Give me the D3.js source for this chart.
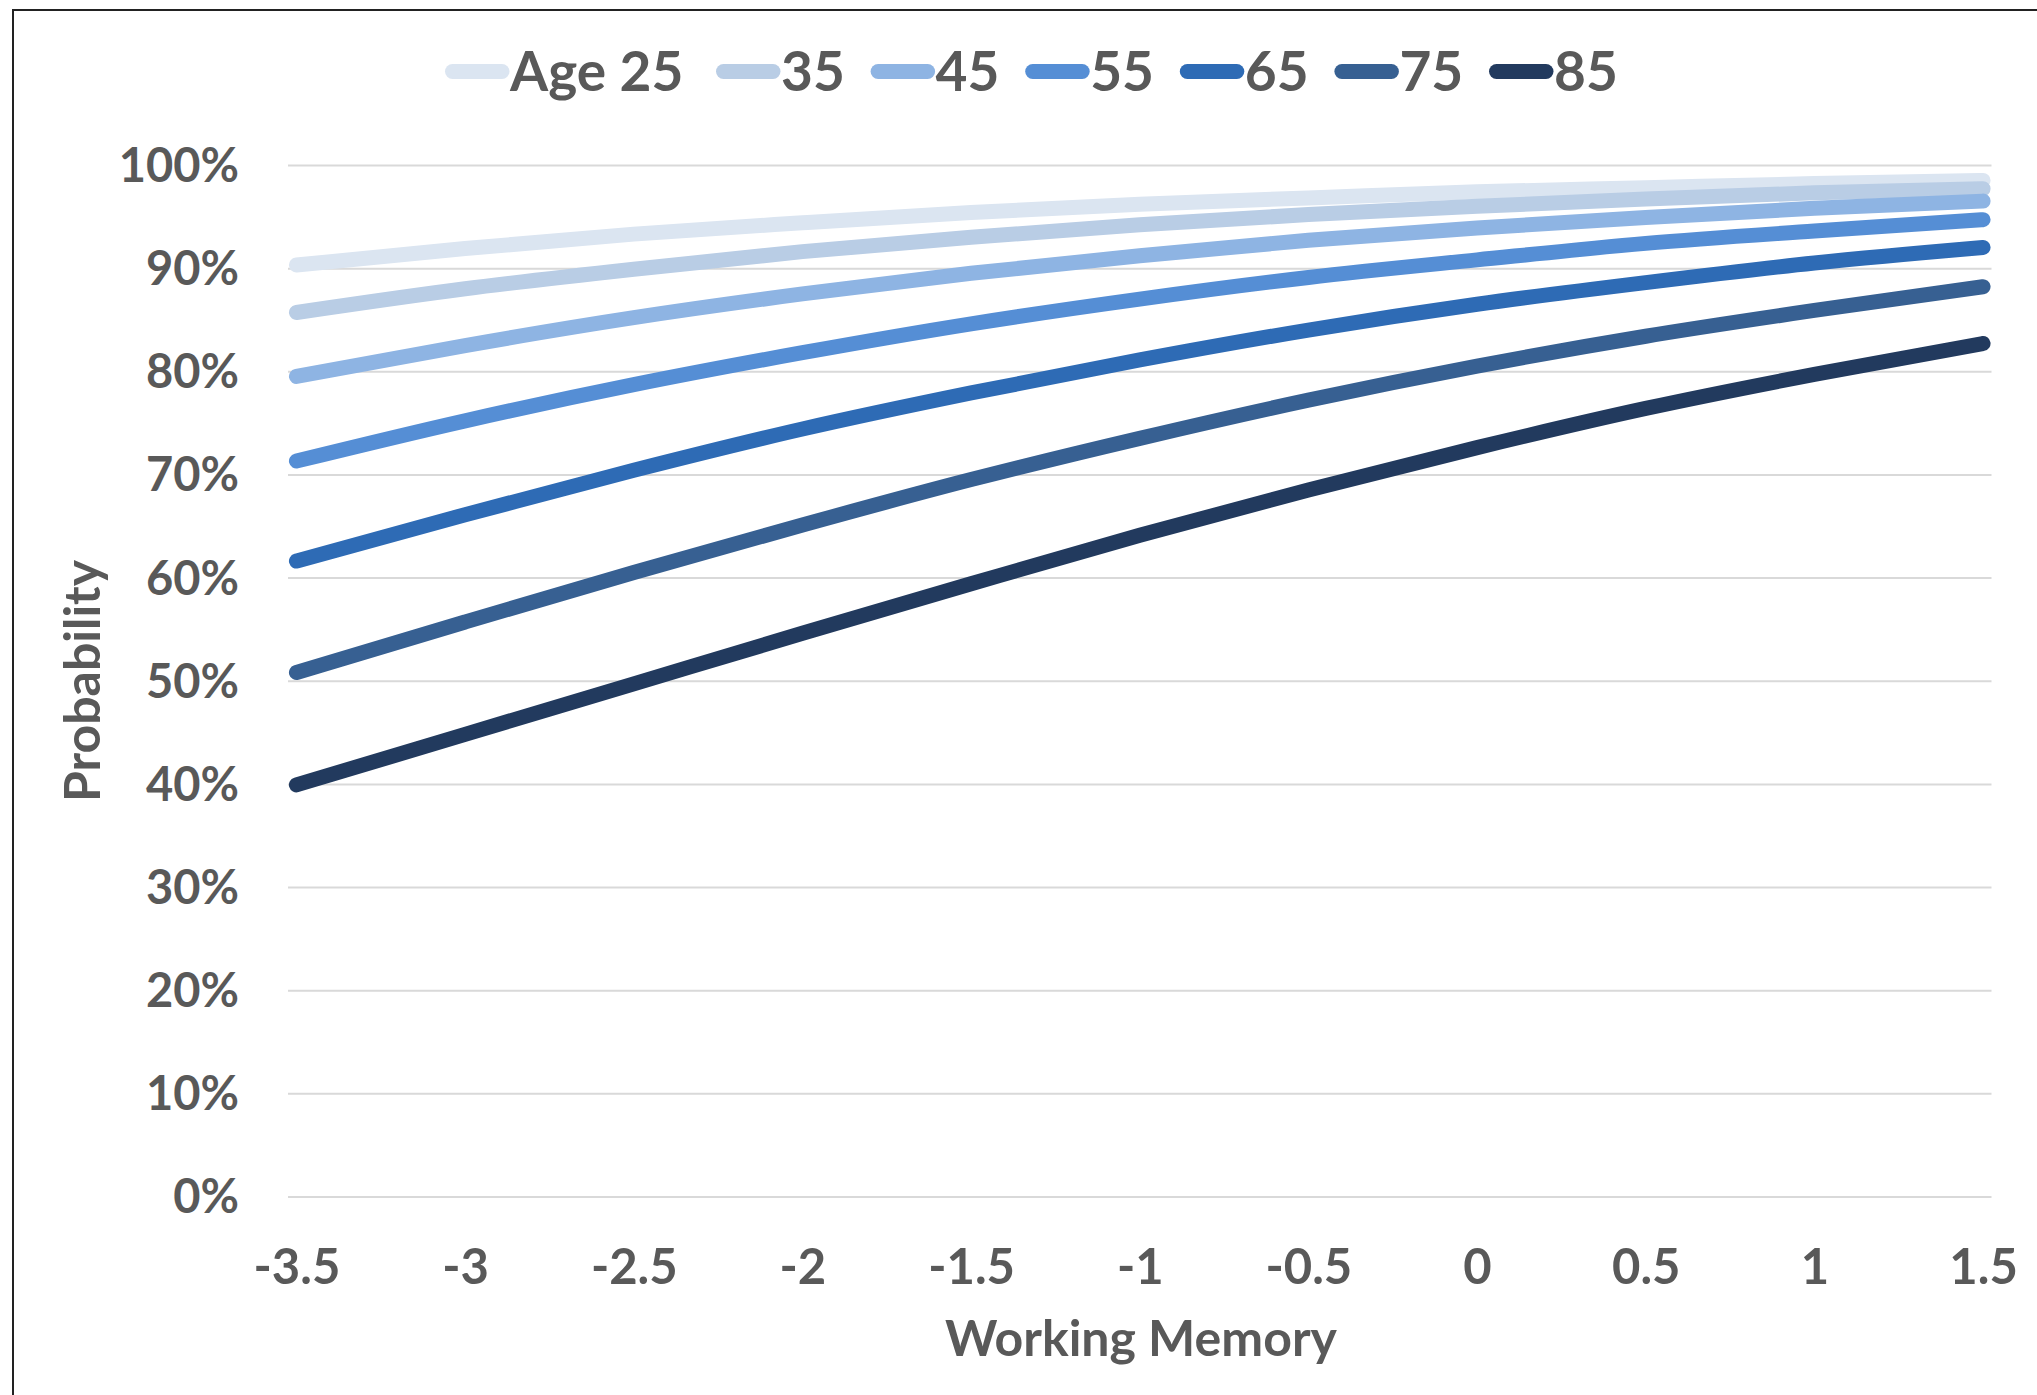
<!DOCTYPE html>
<html>
<head>
<meta charset="utf-8">
<script src="https://cdn.jsdelivr.net/npm/d3@7"></script>
<style>
  html, body { margin: 0; padding: 0; background: #fff; }
  svg { display: block; }
  text { font-family: Lato, "Open Sans", "DejaVu Sans", sans-serif; font-weight: 700; fill: #595959; }
</style>
</head>
<body>
<svg id="chart" width="2037" height="1395"></svg>
<script>
// Working memory values (x) and predicted probability (%) for each age group
const workingMemory = [-3.5, -3, -2.5, -2, -1.5, -1, -0.5, 0, 0.5, 1, 1.5];
const ageLabels = ["Age 25", "35", "45", "55", "65", "75", "85"];
const probAge25 = [90.3, 91.9, 93.3, 94.4, 95.4, 96.2, 96.8, 97.4, 97.8, 98.2, 98.5];
const probAge35 = [85.7, 88.0, 89.9, 91.6, 93.0, 94.2, 95.2, 96.0, 96.7, 97.3, 97.7];
const probAge45 = [79.5, 82.5, 85.2, 87.5, 89.5, 91.2, 92.7, 93.9, 94.9, 95.8, 96.5];
const probAge55 = [71.3, 75.2, 78.7, 81.8, 84.6, 87.0, 89.1, 90.8, 92.4, 93.6, 94.7];
const probAge65 = [61.6, 66.1, 70.4, 74.4, 77.9, 81.1, 84.0, 86.5, 88.6, 90.5, 92.0];
const probAge75 = [50.8, 55.7, 60.5, 65.1, 69.5, 73.5, 77.2, 80.5, 83.4, 85.9, 88.2];
const probAge85 = [39.9, 44.8, 49.7, 54.6, 59.4, 64.1, 68.5, 72.6, 76.4, 79.7, 82.7];
const xTickValues = [-3.5, -3, -2.5, -2, -1.5, -1, -0.5, 0, 0.5, 1, 1.5];
const yTickValues = [0, 10, 20, 30, 40, 50, 60, 70, 80, 90, 100];
const seriesColors = ["#dbe5f1", "#b9cde5", "#8eb4e3", "#558ed5", "#2e6bb5", "#376092", "#223a5e"];

const seriesValues = [probAge25, probAge35, probAge45, probAge55, probAge65, probAge75, probAge85];
const series = ageLabels.map((label, i) => ({
  label,
  color: seriesColors[i],
  points: workingMemory.map((wm, j) => ({ x: wm, y: seriesValues[i][j] }))
}));

const svg = d3.select("#chart");

// chart frame
svg.append("rect")
  .attr("x", 13).attr("y", 10)
  .attr("width", 2100).attr("height", 1500)
  .attr("fill", "none").attr("stroke", "#222").attr("stroke-width", 2);

const plot = { left: 288, right: 1991.5, top: 165, bottom: 1196.5 };

const x = d3.scaleLinear().domain([-3.525, 1.525]).range([plot.left, plot.right]);
const y = d3.scaleLinear().domain([0, 100]).range([plot.bottom, plot.top]);

// horizontal gridlines
svg.append("g")
  .attr("transform", `translate(${plot.left},0)`)
  .call(d3.axisLeft(y).tickValues(yTickValues).tickSize(-(plot.right - plot.left)).tickFormat(""))
  .call(g => g.select(".domain").remove())
  .call(g => g.selectAll(".tick line").attr("stroke", "#d9d9d9").attr("stroke-width", 2));

// y axis labels
svg.append("g")
  .attr("transform", `translate(${plot.left - 49},0)`)
  .call(d3.axisLeft(y).tickValues(yTickValues).tickSize(0).tickPadding(0).tickFormat(d => d + "%"))
  .call(g => g.select(".domain").remove())
  .call(g => g.selectAll(".tick text")
    .attr("font-size", 47).attr("fill", "#595959")
    .attr("font-family", "Lato, 'Open Sans', sans-serif").attr("font-weight", 700)
    .attr("dy", "0.35em"));

// x axis labels (plain hyphen for negatives)
svg.append("g")
  .attr("transform", `translate(0,${plot.bottom + 70})`)
  .call(d3.axisBottom(x).tickValues(xTickValues).tickSize(0).tickPadding(0).tickFormat(d => String(d)))
  .call(g => g.select(".domain").remove())
  .call(g => g.selectAll(".tick text")
    .attr("font-size", 49).attr("fill", "#595959")
    .attr("font-family", "Lato, 'Open Sans', sans-serif").attr("font-weight", 700)
    .attr("dy", "0.35em"));

// axis titles
svg.append("text")
  .attr("x", 1141).attr("y", 1338).attr("dy", "0.35em")
  .attr("text-anchor", "middle").attr("font-size", 50)
  .text("Working Memory");

svg.append("text")
  .attr("transform", `translate(82,681) rotate(-90)`)
  .attr("dy", "0.35em")
  .attr("text-anchor", "middle").attr("font-size", 50)
  .text("Probability");

// series lines
const line = d3.line().x(d => x(d.x)).y(d => y(d.y)).curve(d3.curveMonotoneX);
svg.append("g").selectAll("path")
  .data(series)
  .join("path")
  .attr("d", d => line(d.points))
  .attr("fill", "none")
  .attr("stroke", d => d.color)
  .attr("stroke-width", 15)
  .attr("stroke-linecap", "round")
  .attr("stroke-linejoin", "round");

// legend: first entry is wider, the rest share an even stride
const legend = svg.append("g");
const legendY = 71.5;
const legendStart = i => (i === 0 ? 445 : 716 + (i - 1) * 154.6);
series.forEach((s, i) => {
  const x0 = legendStart(i);
  legend.append("line")
    .attr("x1", x0 + 7.5).attr("x2", x0 + 57)
    .attr("y1", legendY).attr("y2", legendY)
    .attr("stroke", s.color).attr("stroke-width", 15).attr("stroke-linecap", "round");
  legend.append("text")
    .attr("x", x0 + 65).attr("y", legendY).attr("dy", "0.36em")
    .attr("font-size", 55)
    .text(s.label);
});
</script>
</body>
</html>
